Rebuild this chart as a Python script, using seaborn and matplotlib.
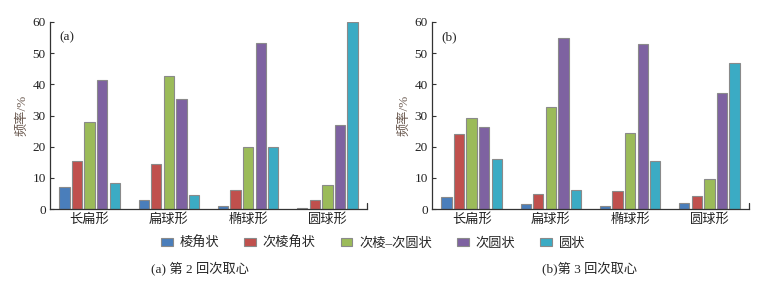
import numpy as np
import pandas as pd
import matplotlib
matplotlib.use("Agg")
import matplotlib.pyplot as plt
import seaborn as sns

categories = ["长扁形", "扁球形", "椭球形", "圆球形"]
series = ["棱角状", "次棱角状", "次棱–次圆状", "次圆状", "圆状"]
colors = ["#4A7EBB", "#C0504D", "#9BBB59", "#7E62A1", "#3BABC4"]

# panel (a): 第 2 回次取心, rows = series, cols = categories
a_angular = [7.2, 2.9, 1.0, 0.4]
a_subangular = [15.5, 14.5, 6.0, 2.9]
a_subang_subround = [27.8, 42.8, 20.0, 7.8]
a_subround = [41.3, 35.3, 53.3, 27.0]
a_round = [8.2, 4.5, 19.8, 60.0]

# panel (b): 第 3 回次取心
b_angular = [3.9, 1.5, 1.1, 2.0]
b_subangular = [24.2, 4.8, 5.8, 4.3]
b_subang_subround = [29.3, 32.7, 24.3, 9.7]
b_subround = [26.2, 54.8, 52.9, 37.2]
b_round = [16.1, 6.0, 15.5, 46.8]

yticks = [0, 10, 20, 30, 40, 50, 60]

sns.set_style("ticks")
plt.rcParams['font.family'] = ['Liberation Serif', 'Noto Sans CJK SC', 'DejaVu Sans']
plt.rcParams['axes.unicode_minus'] = False

def to_df(vals):
    rows = []
    for s, v in zip(series, vals):
        for c, x in zip(categories, v):
            rows.append({"cat": c, "series": s, "val": x})
    return pd.DataFrame(rows)

dfa = to_df([a_angular, a_subangular, a_subang_subround, a_subround, a_round])
dfb = to_df([b_angular, b_subangular, b_subang_subround, b_subround, b_round])

fig = plt.figure(figsize=(7.64, 2.81), dpi=100)
axa = fig.add_axes([50/764, 1-209/281, 317/764, 187/281])
axb = fig.add_axes([432/764, 1-209/281, 317/764, 187/281])

for ax, df, lab in [(axa, dfa, "(a)"), (axb, dfb, "(b)")]:
    sns.barplot(data=df, x="cat", y="val", hue="series", hue_order=series,
                order=categories, palette=colors, saturation=1, ax=ax, width=0.79, gap=0.18,
                edgecolor="#8a8a8a", linewidth=0.8, legend=(ax is axa))
    ax.set_xlim(-0.5, 3.5)
    ax.set_ylim(0, 60)
    ax.set_yticks(yticks)
    ax.tick_params(axis='y', direction='in', length=3, labelsize=9.5, width=0.8, colors='#333333', pad=3)
    ax.tick_params(axis='x', length=0, labelsize=9.5, pad=3)
    for t in ax.get_yticklabels():
        t.set_color('#222222')
    for t in ax.get_xticklabels():
        t.set_color('#222222')
    ax.set_xlabel("")
    ax.set_ylabel("频率/%", fontsize=9.5, color="#6b5a50", labelpad=3)
    for s in ["top", "right"]:
        ax.spines[s].set_visible(False)
    for s in ["left", "bottom"]:
        ax.spines[s].set_linewidth(0.9)
        ax.spines[s].set_color("#333333")
    ax.text(0.03, 0.95, lab, transform=ax.transAxes, fontsize=9.5, va="top", ha="left")
    ax.plot([1, 1], [0, 0.03], transform=ax.transAxes, color="#333333", lw=0.9, clip_on=False)

handles, labels = axa.get_legend_handles_labels()
axa.get_legend().remove()
fig.legend(handles, labels, loc="center", bbox_to_anchor=(373/764, 1-243/281), ncol=5,
           frameon=False, fontsize=9.5, handlelength=0.9, handleheight=0.6,
           handletextpad=0.5, columnspacing=1.9)

fig.text(200/764, 1-268/281, "(a) 第 2 回次取心", ha="center", va="center", fontsize=9.5)
fig.text(590/764, 1-268/281, "(b)第 3 回次取心", ha="center", va="center", fontsize=9.5)

fig.savefig("out.png", dpi=100)
